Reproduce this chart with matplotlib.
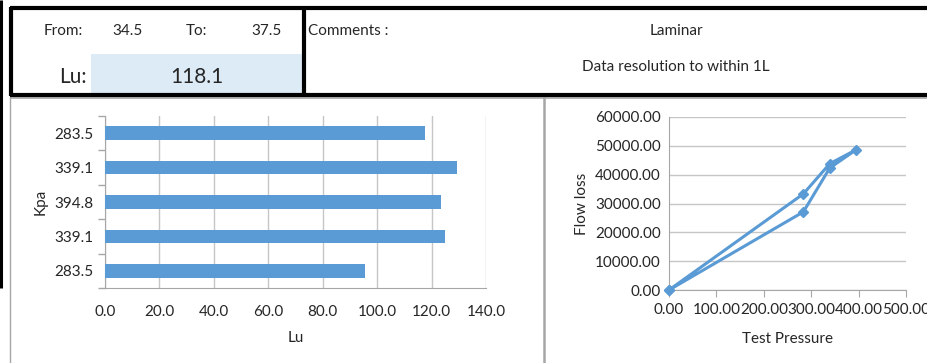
import matplotlib.pyplot as plt
from matplotlib.patches import Rectangle
from matplotlib.lines import Line2D
import numpy as np

# data
pressure_labels = ['283.5', '339.1', '394.8', '339.1', '283.5']   # bottom to top
lu_values = [95.6, 124.8, 123.3, 129.2, 117.7]
test_pressure = [0.0, 283.5, 339.1, 394.8, 339.1, 283.5, 0.0]
flow_loss = [0.0, 27100, 42300, 48650, 43800, 33350, 0.0]
lu_from, lu_to, lu_mean = '34.5', '37.5', '118.1'

W, H = 928, 363
BLUE = '#5B9BD5'
GRID = '#C6C6C6'
TXT = '#262626'
FS = 11
plt.rcParams['font.family'] = ['Lato', 'DejaVu Sans']

fig = plt.figure(figsize=(W / 100, H / 100), dpi=100)


def fx(x):
    return x / W


def fy(y):
    return 1 - y / H


def hline(x0, x1, y, lw, color='black'):
    fig.add_artist(Line2D([fx(x0), fx(x1)], [fy(y), fy(y)], lw=lw, color=color,
                          transform=fig.transFigure, solid_capstyle='butt'))


def vline(x, y0, y1, lw, color='black'):
    fig.add_artist(Line2D([fx(x), fx(x)], [fy(y0), fy(y1)], lw=lw, color=color,
                          transform=fig.transFigure, solid_capstyle='butt'))


def txt(x, y, s, size=FS, ha='center'):
    fig.text(fx(x), fy(y), s, ha=ha, va='center', fontsize=size, color=TXT)


# ---- header table ----
fig.add_artist(Rectangle((fx(91), fy(94)), fx(302) - fx(91), fy(54) - fy(94),
                         transform=fig.transFigure, facecolor='#DDEBF7', edgecolor='none'))
# chart frames (thin gray)
vline(10.5, 96, H, 1.0, '#A6A6A6')
vline(544.5, 96, H, 1.8, '#A6A6A6')
hline(10, W, 97.5, 1.2, '#A6A6A6')

hline(10, W, 8, 3.0)
hline(10, W, 95, 3.0)
vline(11.5, 7, 96, 3.0)
vline(304, 7, 96, 3.0)
vline(1.5, 0, 288, 2.2)

txt(63, 31, 'From:')
txt(127, 31, lu_from)
txt(197, 31, 'To:')
txt(266, 31, lu_to)
txt(308, 31, 'Comments :', ha='left')
txt(87, 77, 'Lu:', size=15, ha='right')
txt(197, 77, lu_mean, size=15)
txt(676, 31, 'Laminar')
txt(676, 67, 'Data resolution to within 1L')

# ---- bar chart ----
ax1 = fig.add_axes([fx(105), fy(288), fx(486) - fx(105), fy(116) - fy(288)])
ypos = np.arange(len(lu_values))
ax1.barh(ypos, lu_values, height=0.4, color=BLUE, zorder=3)
ax1.set_xlim(0, 140)
ax1.set_ylim(-0.5, len(lu_values) - 0.5)
ax1.set_xticks(np.arange(0, 141, 20))
ax1.set_xticklabels([f'{v:.1f}' for v in np.arange(0, 141, 20)])
ax1.set_yticks(ypos)
ax1.set_yticklabels(pressure_labels)
ax1.set_yticks(np.arange(-0.5, len(lu_values)), minor=True)
ax1.tick_params(axis='y', which='major', length=0, pad=8, labelsize=FS, labelcolor=TXT)
ax1.tick_params(axis='y', which='minor', length=5, color='#A6A6A6', width=1)
ax1.tick_params(axis='x', length=0, pad=12, labelsize=FS, labelcolor=TXT)
ax1.grid(axis='x', color=GRID, lw=1, zorder=0)
for s in ['top', 'right']:
    ax1.spines[s].set_visible(False)
for s in ['left', 'bottom']:
    ax1.spines[s].set_color('#A6A6A6')
ax1.set_xlabel('Lu', fontsize=FS, color=TXT, labelpad=9)
ax1.set_ylabel('Kpa', fontsize=FS, color=TXT, labelpad=5)

# ---- line chart ----
ax2 = fig.add_axes([fx(669), fy(290), fx(906) - fx(669), fy(117) - fy(290)])
ax2.plot(test_pressure, flow_loss, color=BLUE, lw=2.2, marker='D', ms=5.5,
         clip_on=False, zorder=3)
ax2.set_xlim(0, 500)
ax2.set_ylim(0, 60000)
ax2.set_xticks(np.arange(0, 501, 100))
ax2.set_xticklabels([f'{v:.2f}' for v in np.arange(0, 501, 100)])
ax2.set_yticks(np.arange(0, 60001, 10000))
ax2.set_yticklabels([f'{v:.2f}' for v in np.arange(0, 60001, 10000)])
ax2.tick_params(axis='x', length=5, color='#A6A6A6', pad=4, labelsize=FS, labelcolor=TXT)
ax2.tick_params(axis='y', length=0, pad=6, labelsize=FS, labelcolor=TXT)
ax2.grid(axis='y', color=GRID, lw=1, zorder=0)
for s in ['top', 'right']:
    ax2.spines[s].set_visible(False)
for s in ['left', 'bottom']:
    ax2.spines[s].set_color('#A6A6A6')
ax2.set_xlabel('Test Pressure', fontsize=FS, color=TXT, labelpad=11)
ax2.set_ylabel('Flow loss', fontsize=FS, color=TXT, labelpad=4)

fig.savefig('out.png', dpi=100)
